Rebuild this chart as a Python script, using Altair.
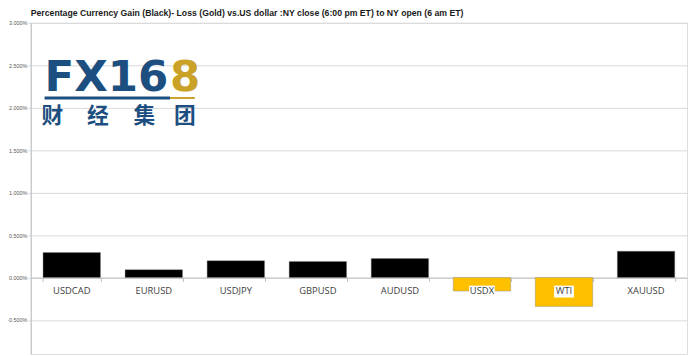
import altair as alt
import pandas as pd

categories = ["USDCAD", "EURUSD", "USDJPY", "GBPUSD", "AUDUSD", "USDX", "WTI", "XAUUSD"]
changes = [0.294, 0.093, 0.198, 0.190, 0.224, -0.159, -0.340, 0.310]
y_ticks = [-0.5, 0.0, 0.5, 1.0, 1.5, 2.0, 2.5, 3.0]
title_text = "Percentage Currency  Gain (Black)- Loss (Gold) vs.US dollar  :NY close (6:00 pm ET) to NY open (6 am ET)"

Y_MIN, Y_MAX = -0.9, 3.0
W, H = 664, 335

df = pd.DataFrame({"cat": categories, "chg": changes})
df["color"] = ["#000000" if v >= 0 else "#FFC000" for v in changes]
df["boxw"] = [len(c) * 6 + 2 for c in categories]

zero_offset = -(H - H * Y_MAX / (Y_MAX - Y_MIN))

xenc = alt.X("cat:N", sort=categories,
             scale=alt.Scale(paddingInner=0.3, paddingOuter=0.15),
             axis=alt.Axis(title=None, labels=False, orient="bottom", offset=zero_offset,
                           tickBand="extent", tickSize=4, tickColor="#bfbfbf",
                           domainColor="#bfbfbf", domainWidth=1, grid=False))
yenc = alt.Y("chg:Q", scale=alt.Scale(domain=[Y_MIN, Y_MAX], nice=False, zero=False),
             axis=alt.Axis(title=None, values=y_ticks,
                           labelExpr="replace(format(datum.value, '.3f'), '\u2212', '-') + '%'",
                           labelFontSize=5.5, labelColor="#595959",
                           labelFont="Liberation Sans",
                           tickSize=3, tickColor="#d9d9d9", labelPadding=1,
                           domainColor="#bfbfbf", gridColor="#d9d9d9", grid=True))

bars = alt.Chart(df).mark_bar(stroke="#808080", strokeWidth=0.4).encode(
    x=xenc, y=yenc, y2=alt.datum(0), color=alt.Color("color:N", scale=None))

boxes = alt.Chart(df).mark_bar(color="white").encode(
    x=alt.X("cat:N", sort=categories), y=alt.datum(-0.095), y2=alt.datum(-0.235),
    size=alt.Size("boxw:Q", scale=None))

labels = alt.Chart(df).mark_text(dy=14, fontSize=9.5, color="#404040", font="Open Sans").encode(
    x=alt.X("cat:N", sort=categories), y=alt.datum(0), text="cat:N")

one = pd.DataFrame({"a": [0]})
logo_blue = "#1c4f7f"
logo_gold = "#c9a227"
fx = alt.Chart(one).mark_text(text="FX16", align="left", baseline="alphabetic", fontSize=44,
                              fontWeight="bold", font="DejaVu Sans", color=logo_blue).encode(
    x=alt.value(14), y=alt.value(69))
eight = alt.Chart(one).mark_text(text="8", align="left", baseline="alphabetic", fontSize=44,
                                 fontWeight="bold", font="DejaVu Sans", color=logo_gold).encode(
    x=alt.value(141), y=alt.value(69))
line_blue = alt.Chart(one).mark_rule(color=logo_blue, strokeWidth=3).encode(
    x=alt.value(14), x2=alt.value(141), y=alt.value(76))
line_gold = alt.Chart(one).mark_rule(color=logo_gold, strokeWidth=2).encode(
    x=alt.value(141), x2=alt.value(166), y=alt.value(76))
cn_chars = ["财", "经", "集", "团"]
cn_x = [22, 68, 115, 156]
cn_layers = [alt.Chart(one).mark_text(text=ch, fontSize=22, fontWeight="bold",
                                      font="Noto Sans CJK SC", color=logo_blue).encode(
    x=alt.value(xx), y=alt.value(94)) for ch, xx in zip(cn_chars, cn_x)]

chart = alt.layer(bars, boxes, labels, fx, eight, line_blue, line_gold, *cn_layers).properties(
    width=W, height=H,
    autosize="none",
    padding={"left": 23, "top": 13, "right": 5, "bottom": 0},
    title=alt.TitleParams(title_text, anchor="start", frame="group", fontSize=8.8,
                          fontWeight="bold", font="Liberation Sans",
                          color="#1a1a1a", offset=3, dx=0),
).configure_view(stroke=None).configure(background="white")

chart.save("out.html", embed_options={"renderer": "svg", "actions": False})
